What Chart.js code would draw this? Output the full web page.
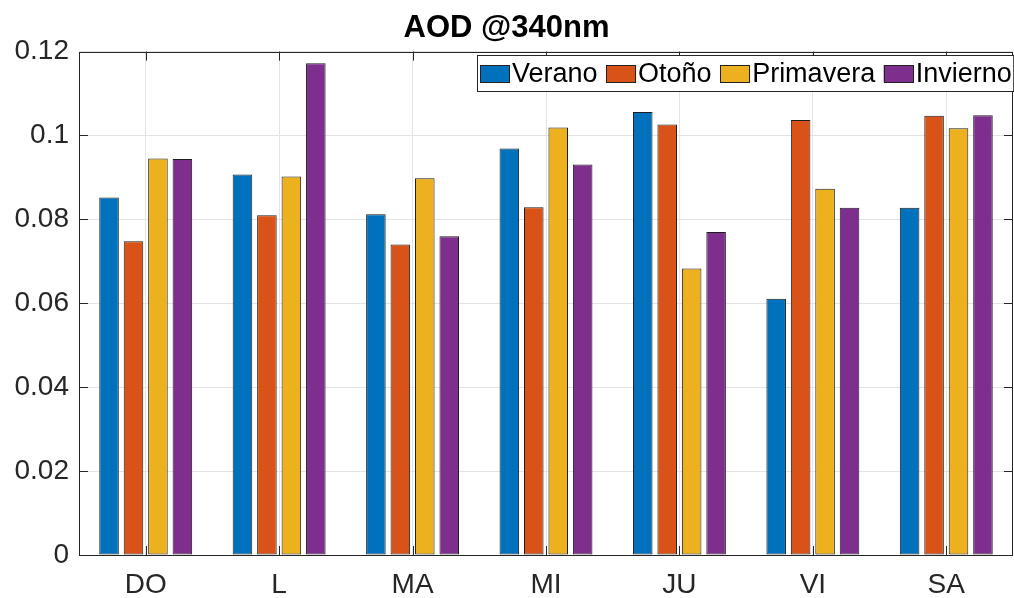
<!DOCTYPE html>
<html lang="es">
<head>
  <meta charset="UTF-8" />
  <title>AOD @340nm</title>
  <script src="https://cdn.jsdelivr.net/npm/chart.js"></script>
  <style>
    html, body { margin: 0; padding: 0; background: #fff; }
    #wrap { width: 1014px; height: 598px; }
  </style>
</head>
<body>
  <div id="wrap"><canvas id="aodChart" width="1014" height="598"></canvas></div>

  <script>
    const days = ['DO', 'L', 'MA', 'MI', 'JU', 'VI', 'SA'];
    const seasons = ['Verano', 'Otoño', 'Primavera', 'Invierno'];
    const colors = ['#0072BD', '#D95319', '#EDB120', '#7E2F8E'];

    const verano    = [0.0852, 0.0907, 0.0812, 0.0969, 0.1056, 0.0611, 0.0828];
    const otono     = [0.0748, 0.0810, 0.0740, 0.0829, 0.1026, 0.1037, 0.1047];
    const primavera = [0.0945, 0.0902, 0.0898, 0.1019, 0.0683, 0.0873, 0.1017];
    const invierno  = [0.0944, 0.1172, 0.0760, 0.0931, 0.0770, 0.0828, 0.1048];

    const yTickValues = [0, 0.02, 0.04, 0.06, 0.08, 0.1, 0.12];
    const yTickLabels = ['0', '0.02', '0.04', '0.06', '0.08', '0.1', '0.12'];

    const FONT = '"Liberation Sans", Arial, Helvetica, sans-serif';
    const AXIS = '#262626';

    // MATLAB-like box with inward ticks, plus a legend inside the axes
    const framePlugin = {
      id: 'frame',
      afterDraw(chart) {
        const { ctx, chartArea: a, scales } = chart;
        const tl = 9;
        ctx.save();
        ctx.strokeStyle = AXIS;
        ctx.lineWidth = 1;
        ctx.beginPath();
        ctx.rect(Math.round(a.left) + 0.5, Math.round(a.top) + 0.5,
                 Math.round(a.right - a.left) - 1, Math.round(a.bottom - a.top));
        ctx.stroke();

        ctx.beginPath();
        scales.y.ticks.forEach((t, i) => {
          const y = Math.round(scales.y.getPixelForTick(i)) + 0.5;
          ctx.moveTo(a.left, y); ctx.lineTo(a.left + tl, y);
          ctx.moveTo(a.right, y); ctx.lineTo(a.right - tl, y);
        });
        scales.x.ticks.forEach((t, i) => {
          const x = Math.round(scales.x.getPixelForTick(i)) + 0.5;
          ctx.moveTo(x, a.bottom); ctx.lineTo(x, a.bottom - tl);
          ctx.moveTo(x, a.top); ctx.lineTo(x, a.top + tl);
        });
        ctx.stroke();

        // legend
        ctx.font = '27px ' + FONT;
        const sw = 30, sh = 17, gap = 2, itemGap = 8.5, padL = 2.5, padR = 2;
        let total = padL + padR;
        const widths = seasons.map(s => ctx.measureText(s).width);
        widths.forEach((w, i) => { total += sw + gap + w + (i < seasons.length - 1 ? itemGap : 0); });
        const bx = Math.round(a.right - total) + 0.5;
        const by = Math.round(a.top + 3) + 0.5;
        const bh = 36;
        ctx.fillStyle = '#fff';
        ctx.fillRect(bx, by, total, bh);
        ctx.strokeStyle = AXIS;
        ctx.strokeRect(bx, by, total, bh);
        let x = bx + padL;
        const cy = by + bh / 2;
        ctx.textBaseline = 'middle';
        seasons.forEach((s, i) => {
          ctx.fillStyle = colors[i];
          ctx.fillRect(x, cy - sh / 2, sw, sh);
          ctx.strokeStyle = '#222';
          ctx.strokeRect(Math.round(x) + 0.5, Math.round(cy - sh / 2) + 0.5, sw - 1, sh);
          x += sw + gap;
          ctx.fillStyle = '#000';
          ctx.fillText(s, x, cy + 1);
          x += widths[i] + itemGap;
        });
        ctx.restore();
      }
    };

    const series = [verano, otono, primavera, invierno];

    new Chart(document.getElementById('aodChart'), {
      type: 'bar',
      data: {
        labels: days,
        datasets: series.map((d, i) => ({
          label: seasons[i],
          data: d,
          backgroundColor: colors[i],
          borderColor: '#1e1e1e',
          borderWidth: 1,
          borderSkipped: false,
          categoryPercentage: 0.733,
          barPercentage: 0.8
        }))
      },
      options: {
        responsive: false,
        animation: false,
        devicePixelRatio: 1,
        layout: { padding: { left: 0, right: 1, top: 0, bottom: 0 } },
        plugins: {
          legend: { display: false },
          tooltip: { enabled: false },
          title: {
            display: true,
            text: 'AOD @340nm',
            color: '#000',
            font: { family: FONT, size: 31, weight: 'bold' },
            padding: { top: 10, bottom: 4.4 }
          }
        },
        scales: {
          x: {
            grid: { color: '#e4e4e4', offset: false, drawTicks: false },
            border: { display: false },
            ticks: { color: AXIS, font: { family: FONT, size: 28 }, padding: 13 },
            afterFit(scale) { scale.height = 43; }
          },
          y: {
            min: 0,
            max: 0.12,
            afterBuildTicks(scale) { scale.ticks = yTickValues.map(v => ({ value: v })); },
            grid: { color: '#e4e4e4', drawTicks: false },
            border: { display: false },
            ticks: {
              color: AXIS,
              font: { family: FONT, size: 28 },
              padding: 10,
              callback: (v, i) => yTickLabels[i]
            },
            afterFit(scale) { scale.width = 79; }
          }
        }
      },
      plugins: [framePlugin]
    });
  </script>
</body>
</html>
